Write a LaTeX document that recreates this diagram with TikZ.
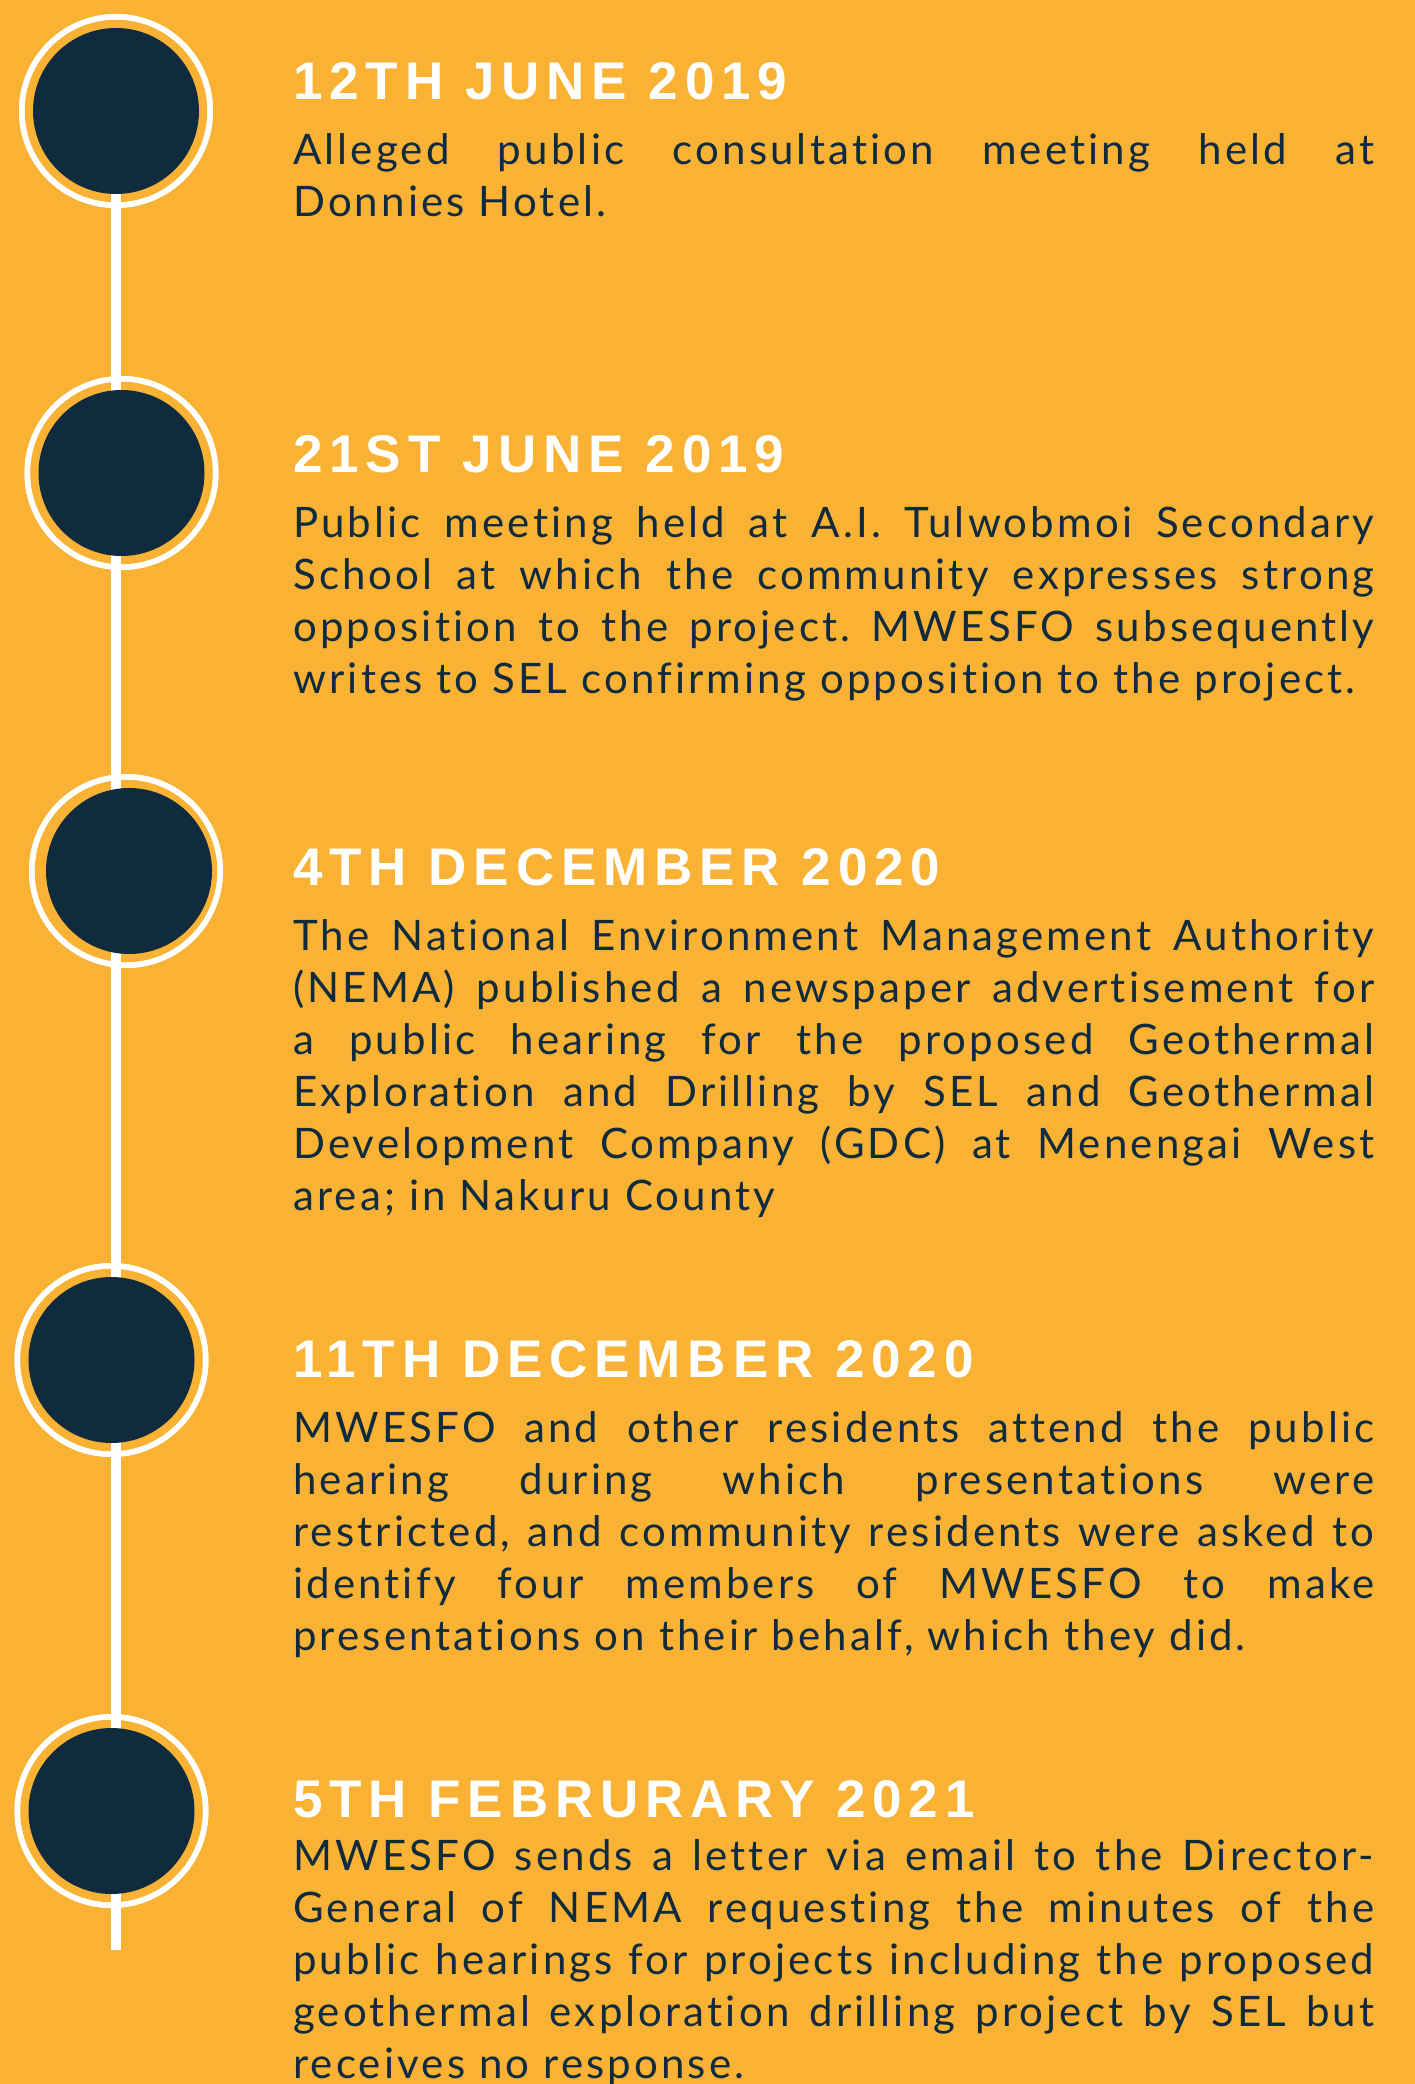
\documentclass[tikz,border=0pt]{standalone}
\usepackage{fontspec}
\usepackage{xcolor}
\usetikzlibrary{positioning}
\definecolor{bgorange}{RGB}{249,178,52}
\definecolor{navyblue}{RGB}{16,42,62}
\newfontfamily\datefont{Liberation Sans}[LetterSpace=13]
\newfontfamily\notefont{Lato}[LetterSpace=7.5, Ligatures={NoCommon,NoContextual}]
\frenchspacing
\tolerance=10000
\hbadness=10000

\begin{document}
\begin{tikzpicture}[x=1pt, y=1pt,
	ringline/.style={circle, draw=white, line width=5.5pt, minimum size=188.5pt, inner sep=0pt},
	navydot/.style={circle, fill=navyblue, minimum size=166pt, inner sep=0pt},
	spine/.style={white, line width=10pt},
	datelabel/.style={anchor=base west, inner sep=0pt, text=white, font=\datefont\bfseries\fontsize{53}{60}\selectfont},
	notetext/.style={anchor=base west, inner sep=0pt, text=navyblue, text width=1081pt, align=justify, font=\notefont\fontsize{42}{52}\selectfont}]
	\useasboundingbox (0,0) rectangle (1415,-2084);
	\fill[bgorange] (0,0) rectangle (1415,-2084);
	% timeline markers
	\node[ringline] (ring1) at (116,-111) {};
	\node[ringline] (ring2) at (121.5,-473) {};
	\node[ringline] (ring3) at (126,-871) {};
	\node[ringline] (ring4) at (111.5,-1360) {};
	\node[ringline] (ring5) at (111.5,-1811) {};
	\coordinate (spineend) at (116,-1950);
	\draw[spine] (ring1.center) -- (spineend);
	\node[ringline] at (ring1) {};
	\node[ringline] at (ring2) {};
	\node[ringline] at (ring3) {};
	\node[ringline] at (ring4) {};
	\node[ringline] at (ring5) {};
	\node[navydot] (dot1) at (116,-111) {};
	\node[navydot] (dot2) at (121.5,-473) {};
	\node[navydot] (dot3) at (129,-871) {};
	\node[navydot] (dot4) at (111.5,-1360) {};
	\node[navydot] (dot5) at (111.5,-1811) {};
	% dates
	\node[datelabel] (date1) at (293,-100) {12TH JUNE 2019};
	\node[datelabel] (date2) at (293,-472) {21ST JUNE 2019};
	\node[datelabel] (date3) at (293,-885) {4TH DECEMBER 2020};
	\node[datelabel] (date4) at (293,-1377) {11TH DECEMBER 2020};
	\node[datelabel] (date5) at (293,-1817) {5TH FEBRURARY 2021};
	% event notes
	\node[notetext] (note1) at (293,-165) {Alleged public consultation meeting held at\linebreak
		Donnies Hotel.};
	\node[notetext] (note2) at (293,-537) {Public meeting held at A.I. Tulwobmoi Secondary\linebreak
		School at which the community expresses strong\linebreak
		opposition to the project. MWESFO subsequently\linebreak
		writes to SEL confirming opposition to the project.};
	\node[notetext] (note3) at (293,-950) {The National Environment Management Authority\linebreak
		(NEMA) published a newspaper advertisement for\linebreak
		a public hearing for the proposed Geothermal\linebreak
		Exploration and Drilling by SEL and Geothermal\linebreak
		Development Company (GDC) at Menengai West\linebreak
		area; in Nakuru County};
	\node[notetext] (note4) at (293,-1442) {MWESFO and other residents attend the public\linebreak
		hearing during which presentations were\linebreak
		restricted, and community residents were asked to\linebreak
		identify four members of MWESFO to make\linebreak
		presentations on their behalf, which they did.};
	\node[notetext] (note5) at (293,-1870) {MWESFO sends a letter via email to the Director-\linebreak
		General of NEMA requesting the minutes of the\linebreak
		public hearings for projects including the proposed\linebreak
		geothermal exploration drilling project by SEL but\linebreak
		receives no response.};
\end{tikzpicture}
\end{document}
